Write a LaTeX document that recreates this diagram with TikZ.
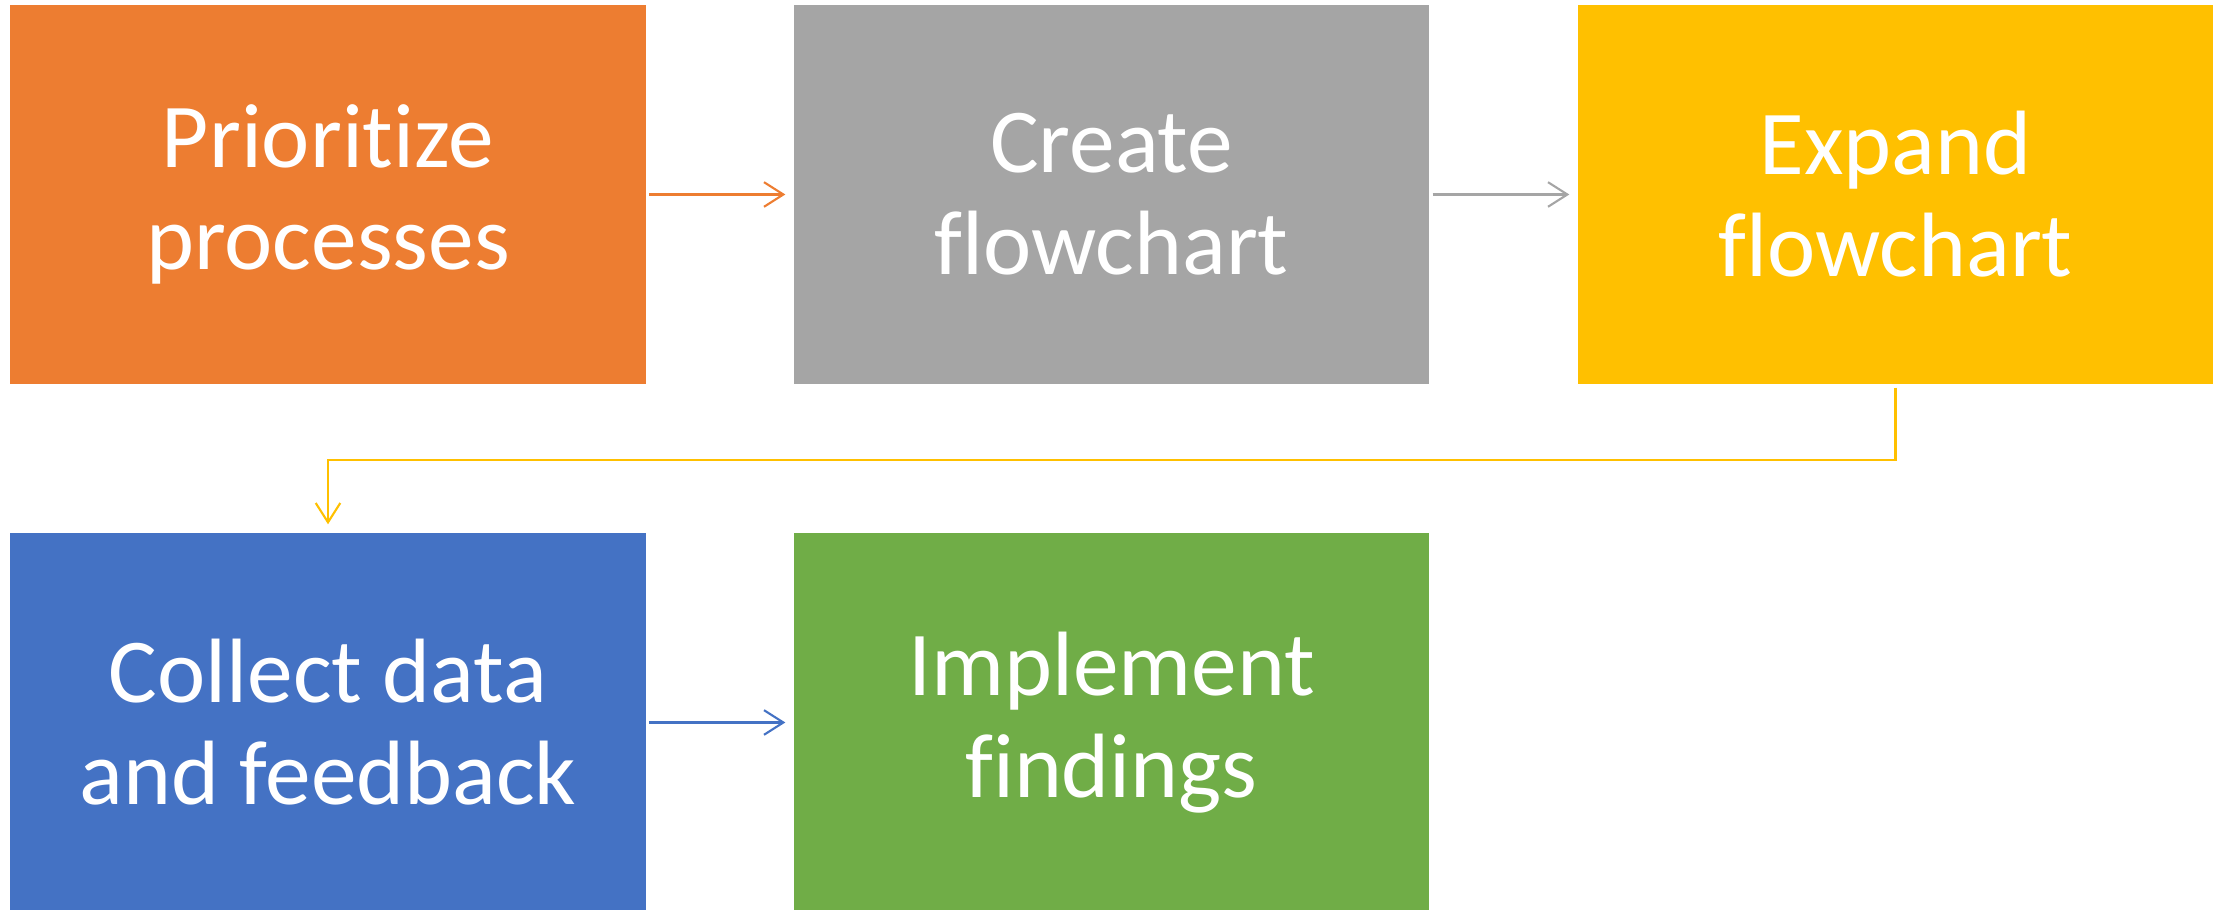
\documentclass[tikz,border=0pt]{standalone}
\usepackage{fontspec}
\setmainfont[Ligatures=NoCommon]{Carlito}
\usetikzlibrary{arrows.meta}
\definecolor{stepOrange}{HTML}{ED7D31}
\definecolor{stepGray}{HTML}{A5A5A5}
\definecolor{stepGold}{HTML}{FFC000}
\definecolor{stepBlue}{HTML}{4472C4}
\definecolor{stepGreen}{HTML}{70AD47}
\tikzset{
    stepbox/.style={minimum width=6.35cm,minimum height=3.79cm,inner sep=0pt,
        text=white,align=center,font=\fontsize{26}{29}\selectfont},
    flow/.style={line width=0.6pt,-{Straight Barb[length=5.5pt,width=7pt]},
        shorten <=0.03cm,shorten >=0.08cm}
}
\begin{document}
\begin{tikzpicture}
    \useasboundingbox (0,0) rectangle (22.21,9.10);
    \node[stepbox,fill=stepOrange] (prio) at (3.28,7.155) {Prioritize\\processes};
    \node[stepbox,fill=stepGray] (create) at (11.115,7.155) {Create\\flowchart};
    \node[stepbox,fill=stepGold] (expand) at (18.955,7.155) {Expand\\flowchart};
    \node[stepbox,fill=stepBlue] (collect) at (3.28,1.875) {Collect data\\and feedback};
    \node[stepbox,fill=stepGreen] (impl) at (11.115,1.875) {Implement\\findings};
    \draw[flow,stepOrange] (prio) -- (create);
    \draw[flow,stepGray] (create) -- (expand);
    \draw[flow,stepGold] (expand.south) -- ++(0,-0.75) -| (collect.north);
    \draw[flow,stepBlue] (collect) -- (impl);
\end{tikzpicture}
\end{document}
